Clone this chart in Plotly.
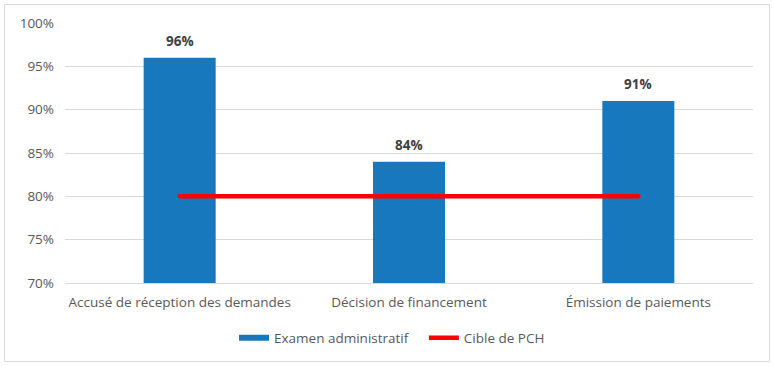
import plotly.graph_objects as go

categories = ["Accusé de réception des demandes", "Décision de financement", "Émission de paiements"]
examen_values = [96, 84, 91]
cible_values = [80, 80, 80]
y_ticks = [70, 75, 80, 85, 90, 95, 100]
y_tick_labels = [f"{v}%" for v in y_ticks]

font_family = "Open Sans, Liberation Sans, sans-serif"
text_color = "#595959"
bar_color = "#1878BE"
line_color = "#FF0000"

fig = go.Figure()
fig.add_trace(go.Bar(
    x=categories, y=examen_values, name="Examen administratif",
    marker=dict(color=bar_color, line=dict(width=0)), showlegend=False,
))
fig.add_trace(go.Scatter(
    x=categories, y=cible_values, name="Cible de PCH", mode="lines+markers",
    line=dict(color=line_color, width=4.5),
    marker=dict(color=line_color, size=4.5, line=dict(width=0)),
    showlegend=False,
))
# legend-only entries
fig.add_trace(go.Scatter(x=[None], y=[None], mode="lines", name="Examen administratif\u00a0\u00a0\u00a0",
                         line=dict(color=bar_color, width=6)))
fig.add_trace(go.Scatter(x=[None], y=[None], mode="lines", name="Cible de PCH",
                         line=dict(color=line_color, width=4.5)))

for cat, v in zip(categories, examen_values):
    fig.add_annotation(x=cat, y=v, text=f"<b>{v}%</b>", showarrow=False,
                       yanchor="bottom", yshift=6,
                       font=dict(size=13.5, color="#404040", family=font_family))

W, H = 774, 366
ml, mr, mt, mb = 65, 21, 23, 83
pw, ph = W - ml - mr, H - mt - mb

def px_x(x):
    return (x - ml) / pw

def px_y(y):
    return (H - mb - y) / ph

fig.update_layout(
    width=W, height=H,
    margin=dict(l=ml, r=mr, t=mt, b=mb),
    paper_bgcolor="white", plot_bgcolor="white",
    bargap=0.686,
    font=dict(family=font_family, size=13.5, color=text_color),
    showlegend=True,
    legend=dict(orientation="h", x=px_x(392), xanchor="center", y=px_y(338), yanchor="middle",
                font=dict(size=13.5, color=text_color), tracegroupgap=0),
    xaxis=dict(showgrid=False, showline=True, linecolor="#D9D9D9", linewidth=1,
               ticks="", ticklabelstandoff=7, tickfont=dict(size=13.5, color=text_color)),
    yaxis=dict(range=[70, 100], tickvals=y_ticks, ticktext=y_tick_labels,
               showgrid=True, gridcolor="#D9D9D9", gridwidth=1, zeroline=False,
               showline=False, ticks="", ticklen=0, ticklabelstandoff=10,
               tickfont=dict(size=13.5, color=text_color)),
    shapes=[dict(type="rect", xref="paper", yref="paper",
                 x0=px_x(4.5), x1=px_x(769.5), y0=px_y(361.5), y1=px_y(4.5),
                 line=dict(color="#D9D9D9", width=1), fillcolor="rgba(0,0,0,0)", layer="below")],
)

fig.write_html("out.html", config={"displayModeBar": False},
               post_script="document.body.style.margin='0';document.body.style.padding='0';")
